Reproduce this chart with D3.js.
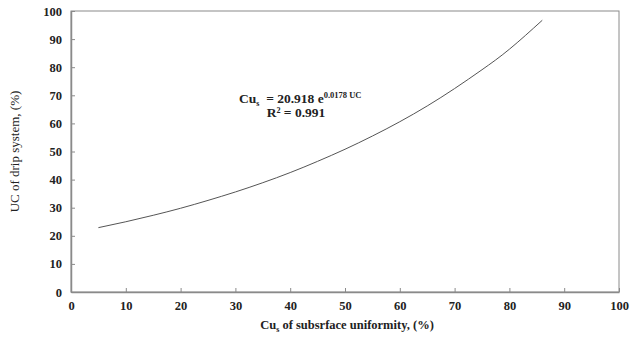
<!DOCTYPE html>
<html>
<head>
<meta charset="utf-8">
<script src="https://cdn.jsdelivr.net/npm/d3@7"></script>
<style>
  body { margin: 0; background: #fff; }
  text { font-family: "Liberation Serif", "Times New Roman", serif; fill: #222; }
</style>
</head>
<body>
<svg id="chart" width="632" height="343"></svg>
<script>
// values
var cuValues = [5, 10, 15, 20, 25, 30, 35, 40, 45, 50, 55, 60, 65, 70, 75, 80, 86];
var ucValues = [22.9, 25.0, 27.3, 29.8, 32.6, 35.6, 38.9, 42.5, 46.5, 50.8, 55.5, 60.6, 66.2, 72.4, 79.1, 86.4, 96.7];
var xTicks = [0, 10, 20, 30, 40, 50, 60, 70, 80, 90, 100];
var yTicks = [0, 10, 20, 30, 40, 50, 60, 70, 80, 90, 100];

var margin = {top: 11, right: 13, bottom: 51, left: 71},
    width = 632 - margin.left - margin.right,
    height = 343 - margin.top - margin.bottom;

var svg = d3.select("#chart");
var g = svg.append("g").attr("transform", "translate(" + margin.left + "," + margin.top + ")");

var x = d3.scaleLinear().domain([0, 100]).range([0, width]);
var y = d3.scaleLinear().domain([0, 100]).range([height, 0]);

// frame
g.append("rect")
    .attr("width", width).attr("height", height)
    .attr("fill", "none").attr("stroke", "#8a8a8a").attr("stroke-width", 1);

var xAxis = g.append("g")
    .attr("transform", "translate(0," + height + ")")
    .call(d3.axisBottom(x).tickValues(xTicks).tickSizeInner(-4).tickSizeOuter(0).tickPadding(9));
var yAxis = g.append("g")
    .call(d3.axisLeft(y).tickValues(yTicks).tickSizeInner(-4).tickSizeOuter(0).tickPadding(9));

[xAxis, yAxis].forEach(function(a) {
  a.selectAll("path").attr("stroke", "#8a8a8a").attr("stroke-width", 1.5);
  a.selectAll("line").attr("stroke", "#8a8a8a");
  a.selectAll("text")
      .style("font-family", "'Liberation Serif', serif")
      .style("font-weight", "bold")
      .style("font-size", "12.5px")
      .attr("fill", "#222");
});

// fitted curve
var pts = cuValues.map(function(d, i) { return [d, ucValues[i]]; });
var line = d3.line()
    .x(function(d) { return x(d[0]); })
    .y(function(d) { return y(d[1]); })
    .curve(d3.curveNatural);

g.append("path")
    .datum(pts)
    .attr("d", line)
    .attr("fill", "none")
    .attr("stroke", "#555")
    .attr("stroke-width", 1);

// equation
var eq = svg.append("text")
    .attr("x", 239).attr("y", 103)
    .attr("xml:space", "preserve")
    .style("font-weight", "bold").style("font-size", "13.5px");
eq.append("tspan").text("Cu");
eq.append("tspan").attr("dy", 3).style("font-size", "8px").text("s");
eq.append("tspan").attr("dy", -3).text("  = 20.918 e");
eq.append("tspan").attr("dy", -5).style("font-size", "8.5px").text("0.0178 UC");

svg.append("text")
    .attr("x", 296).attr("y", 117)
    .attr("text-anchor", "middle")
    .style("font-weight", "bold").style("font-size", "13.5px")
    .text("R² = 0.991");

// axis titles
var xt = svg.append("text")
    .attr("x", margin.left + width / 2 + 2).attr("y", 329)
    .attr("text-anchor", "middle")
    .style("font-weight", "bold").style("font-size", "12.5px");
xt.append("tspan").text("Cu");
xt.append("tspan").attr("dy", 3).style("font-size", "8px").text("s");
xt.append("tspan").attr("dy", -3).text(" of subsrface uniformity, (%)");

svg.append("text")
    .attr("transform", "translate(19," + (margin.top + height / 2) + ") rotate(-90)")
    .attr("text-anchor", "middle")
    .style("font-size", "13px")
    .text("UC of drip system, (%)");
</script>
</body>
</html>
